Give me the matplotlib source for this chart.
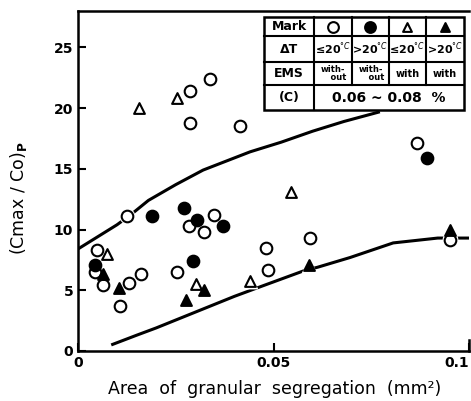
import numpy as np
import matplotlib.pyplot as plt

plt.rcParams['font.family'] = ['DejaVu Sans']

# 数据：颗粒偏析面积 vs (Cmax/Co)P
# ○ ΔT<=20°C, 无EMS
open_circle_x = [0.0287, 0.0338, 0.0287, 0.0415, 0.0125, 0.0349, 0.0285, 0.0321, 0.0048, 0.0044,
                 0.0065, 0.0131, 0.0162, 0.0108, 0.0254, 0.0867, 0.0480, 0.0593, 0.0487, 0.0951]
open_circle_y = [21.4, 22.4, 18.8, 18.5, 11.1, 11.2, 10.3, 9.8, 8.3, 6.5,
                 5.4, 5.6, 6.3, 3.7, 6.5, 17.1, 8.5, 9.3, 6.7, 9.1]
# ● ΔT>20°C, 无EMS
filled_circle_x = [0.0190, 0.0272, 0.0305, 0.0372, 0.0044, 0.0295, 0.0892]
filled_circle_y = [11.1, 11.8, 10.8, 10.3, 7.1, 7.4, 15.9]
# △ ΔT<=20°C, 有EMS
open_tri_x = [0.0156, 0.0253, 0.0075, 0.0303, 0.0441, 0.0546]
open_tri_y = [20.0, 20.8, 8.0, 5.5, 5.8, 13.1]
# ▲ ΔT>20°C, 有EMS
filled_tri_x = [0.0065, 0.0106, 0.0323, 0.0277, 0.0590, 0.0951]
filled_tri_y = [6.3, 5.2, 5.0, 4.2, 7.1, 10.0]

# 上下包络线
upper_x = [0, 0.005, 0.010, 0.0138, 0.018, 0.025, 0.032, 0.044, 0.052, 0.060, 0.068, 0.0772]
upper_y = [8.4, 9.4, 10.4, 11.3, 12.4, 13.7, 14.9, 16.4, 17.2, 18.1, 18.9, 19.7]
lower_x = [0.0085, 0.015, 0.020, 0.030, 0.040, 0.0467, 0.0577, 0.0613, 0.0696, 0.0806, 0.092, 0.100]
lower_y = [0.5, 1.3, 1.9, 3.2, 4.5, 5.3, 6.6, 6.9, 7.7, 8.9, 9.3, 9.3]

x_ticks = [0, 0.05, 0.1]
x_tick_labels = ['0', '0.05', '0.1']
y_ticks = [0, 5, 10, 15, 20, 25]

# 图例表格内容
table_rows = [
    ['Mark', None, None, None, None],
    ['ΔT', '≤20$^{°C}$', '>20$^{°C}$', '≤20$^{°C}$', '>20$^{°C}$'],
    ['EMS', 'with-\n    out', 'with-\n    out', 'with', 'with'],
    ['(C)', '0.06 ~ 0.08  %'],
]

fig = plt.figure(figsize=(4.71, 4.01), dpi=100)
ax = fig.add_axes([0.1656, 0.1247, 0.8302, 0.8479])

ax.plot(upper_x, upper_y, color='black', lw=2.2, zorder=2, solid_capstyle='butt')
ax.plot(lower_x, lower_y, color='black', lw=2.2, zorder=2, solid_capstyle='butt')

groups = [
    (open_circle_x, open_circle_y, 'o', 'white'),
    (filled_circle_x, filled_circle_y, 'o', 'black'),
    (open_tri_x, open_tri_y, '^', 'white'),
    (filled_tri_x, filled_tri_y, '^', 'black'),
]
# 白色衬底，让曲线在点附近断开
for gx, gy, m, fc in groups:
    ax.scatter(gx, gy, marker=m, s=130, facecolor='white', edgecolor='white', lw=0, zorder=3)
for gx, gy, m, fc in groups:
    size = 70 if m == 'o' else 60
    ax.scatter(gx, gy, marker=m, s=size, facecolor=fc, edgecolor='black', lw=1.5, zorder=4)

ax.set_xlim(0, 0.1)
ax.set_ylim(0, 28)
ax.set_xticks(x_ticks)
ax.set_xticklabels(x_tick_labels)
ax.set_yticks(y_ticks)
ax.tick_params(direction='in', length=6, width=1.5, labelsize=10)
for lab in ax.get_xticklabels() + ax.get_yticklabels():
    lab.set_fontweight('bold')
# 最右边的刻度标签靠右对齐，避免出界
ax.get_xticklabels()[-1].set_horizontalalignment('right')
ax.spines['right'].set_visible(False)
for s in ['left', 'bottom', 'top']:
    ax.spines[s].set_linewidth(1.8)
# 右下角刻度
ax.plot([0.1, 0.1], [0, 0.9], color='black', lw=1.8, clip_on=False, zorder=5)

ax.set_xlabel('Area  of  granular  segregation  (mm²)', fontsize=12.5)
ax.xaxis.set_label_coords(0.504, -0.085)
ax.set_ylabel('(Cmax / Co)$_\\mathbf{P}$', fontsize=12.5)
ax.yaxis.set_label_coords(-0.125, 0.45)

# 表格（坐标为轴比例）
col_edges = [0.476, 0.604, 0.701, 0.795, 0.890, 0.987]
row_edges = [0.982, 0.926, 0.850, 0.782, 0.709]
tkw = dict(transform=ax.transAxes, color='black', lw=1.5, clip_on=False, zorder=6)
ax.add_patch(plt.Rectangle((col_edges[0], row_edges[-1]), col_edges[-1] - col_edges[0],
                           row_edges[0] - row_edges[-1], facecolor='white', edgecolor='black',
                           lw=1.8, transform=ax.transAxes, zorder=5, clip_on=False))
for r in row_edges[1:-1]:
    ax.plot([col_edges[0], col_edges[-1]], [r, r], **tkw)
ax.plot([col_edges[1], col_edges[1]], [row_edges[0], row_edges[-1]], **tkw)
for c in col_edges[2:-1]:
    ax.plot([c, c], [row_edges[0], row_edges[3]], **tkw)

mark_styles = [('o', 'white'), ('o', 'black'), ('^', 'white'), ('^', 'black')]
for i, row in enumerate(table_rows):
    yc = (row_edges[i] + row_edges[i + 1]) / 2
    ax.text((col_edges[0] + col_edges[1]) / 2, yc, row[0], ha='center', va='center',
            fontsize=9, fontweight='bold', transform=ax.transAxes, zorder=7)
    if i == 0:
        for j, (m, fc) in enumerate(mark_styles):
            xc = (col_edges[j + 1] + col_edges[j + 2]) / 2
            ax.scatter([xc], [yc], marker=m, s=60 if m == 'o' else 40, facecolor=fc,
                       edgecolor='black', lw=1.5, transform=ax.transAxes, zorder=7, clip_on=False)
    elif i == 3:
        ax.text((col_edges[1] + col_edges[-1]) / 2, yc, row[1], ha='center', va='center',
                fontsize=10, fontweight='bold', transform=ax.transAxes, zorder=7)
    else:
        for j, t in enumerate(row[1:]):
            xc = (col_edges[j + 1] + col_edges[j + 2]) / 2
            fs = 6 if '\n' in t else (7 if i == 2 else 8)
            ax.text(xc, yc, t, ha='center', va='center', fontsize=fs, fontweight='bold',
                    linespacing=0.9, transform=ax.transAxes, zorder=7)

fig.savefig('out.png', dpi=100)
